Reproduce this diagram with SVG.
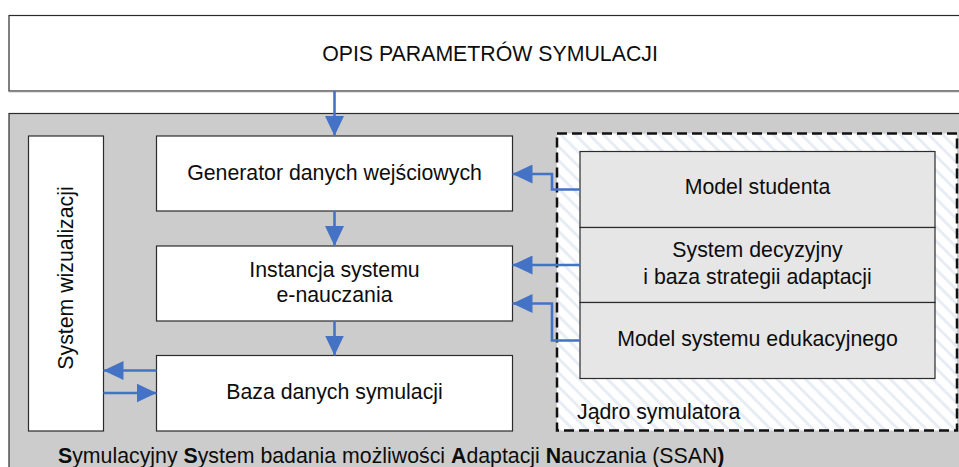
<svg xmlns="http://www.w3.org/2000/svg" width="959" height="467" viewBox="0 0 959 467">
  <defs>
    <!-- light diagonal hatching for the simulator core area -->
    <pattern id="hatch" patternUnits="userSpaceOnUse" width="10" height="10" patternTransform="rotate(-45)">
      <rect width="10" height="10" fill="#ffffff"/>
      <rect x="0" y="0" width="3" height="10" fill="#e8edf5"/>
    </pattern>
    <marker id="arrow" markerUnits="userSpaceOnUse" markerWidth="20" markerHeight="19" refX="20" refY="9.5" orient="auto">
      <path d="M0,0 L20,9.5 L0,19 Z" fill="#4472c4"/>
    </marker>
    <style>
      .box { fill: #ffffff; stroke: #2b2b2b; stroke-width: 1.2; }
      .core { fill: #e6e6e6; stroke: #2b2b2b; stroke-width: 1.2; }
      .panel { fill: #cccccc; stroke: #2b2b2b; stroke-width: 1.2; }
      .lbl { font-family: "Liberation Sans", Arial, sans-serif; font-size: 21.3px; fill: #0d0d0d; text-anchor: middle; }
      .lft { text-anchor: start; }
      .conn { fill: none; stroke: #4472c4; stroke-width: 2.6; marker-end: url(#arrow); }
      .b { font-weight: bold; }
    </style>
  </defs>

  <!-- simulation parameters header -->
  <g id="opis">
    <rect class="box" x="9" y="15.5" width="970" height="75.5"/>
    <line x1="9" y1="91.5" x2="959" y2="91.5" stroke="#8a8a8a" stroke-width="1.5"/>
    <text class="lbl" x="490" y="61">OPIS PARAMETRÓW SYMULACJI</text>
  </g>

  <!-- SSAN system panel -->
  <g id="ssan">
    <rect class="panel" x="9" y="113.5" width="970" height="370"/>
    <text class="lbl lft" x="58" y="463"><tspan class="b">S</tspan>ymulacyjny <tspan class="b">S</tspan>ystem badania możliwości <tspan class="b">A</tspan>daptacji <tspan class="b">N</tspan>auczania (SSAN<tspan class="b">)</tspan></text>
  </g>

  <!-- simulator core -->
  <g id="jadro">
    <rect x="557" y="133.5" width="400" height="297" fill="url(#hatch)" stroke="#111111" stroke-width="2.5" stroke-dasharray="10,5"/>
    <text class="lbl lft" x="577" y="419">Jądro symulatora</text>
  </g>

  <g id="wizualizacja">
    <rect class="box" x="28.5" y="136" width="75" height="295"/>
    <text class="lbl" transform="translate(73,278) rotate(-90)">System wizualizacji</text>
  </g>

  <g id="generator">
    <rect class="box" x="156.5" y="136" width="356" height="75"/>
    <text class="lbl" x="334.5" y="180">Generator danych wejściowych</text>
  </g>

  <g id="instancja">
    <rect class="box" x="156.5" y="246" width="356" height="75"/>
    <text class="lbl" x="334.5" y="277">Instancja systemu</text>
    <text class="lbl" x="334.5" y="302">e-nauczania</text>
  </g>

  <g id="baza">
    <rect class="box" x="156.5" y="355.5" width="356" height="75.5"/>
    <text class="lbl" x="334.5" y="399">Baza danych symulacji</text>
  </g>

  <g id="model-studenta">
    <rect class="core" x="580" y="151.5" width="355" height="76"/>
    <text class="lbl" x="757.5" y="194">Model studenta</text>
  </g>

  <g id="system-decyzyjny">
    <rect class="core" x="580" y="227.5" width="355" height="75"/>
    <text class="lbl" x="757.5" y="257">System decyzyjny</text>
    <text class="lbl" x="757.5" y="284">i baza strategii adaptacji</text>
  </g>

  <g id="model-systemu">
    <rect class="core" x="580" y="302.5" width="355" height="76"/>
    <text class="lbl" x="757.5" y="346">Model systemu edukacyjnego</text>
  </g>

  <!-- connectors -->
  <g id="connectors">
    <path class="conn" d="M334.5,91 V136"/>
    <path class="conn" d="M334.5,211 V246"/>
    <path class="conn" d="M334.5,321 V355.5"/>
    <path class="conn" d="M580,189.5 H552 V174 H512.5"/>
    <path class="conn" d="M580,265 H512.5"/>
    <path class="conn" d="M580,340.5 H552 V303.5 H512.5"/>
    <path class="conn" d="M156.5,370.5 H103.5"/>
    <path class="conn" d="M103.5,393 H156.5"/>
  </g>
</svg>
